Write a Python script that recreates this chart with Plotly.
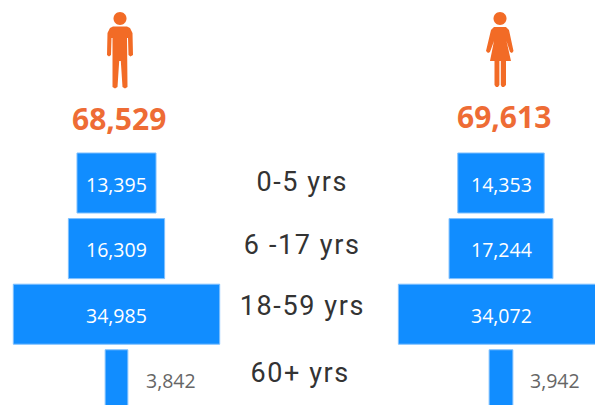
import plotly.graph_objects as go

age_groups = ["0-5 yrs", "6 -17 yrs", "18-59 yrs", "60+ yrs"]
male = [13395, 16309, 34985, 3842]
female = [14353, 17244, 34072, 3942]
male_total = 68529
female_total = 69613

W, H = 595, 405
BLUE = "#118DFF"
ORANGE = "#EE6C35"
NUM_FONT = "Open Sans"
LABEL_FONT = "Roboto"

# pixel layout of the two mirrored funnels
L_CENTER, L_SCALE = 116.5, 169.5
R_CENTER, R_SCALE = 501.0, 166.0
ROW_TOP, ROW_PITCH = 183.0, 65.6
LABEL_X = [301.5, 302, 302.5, 300]
LABEL_Y = [182, 245, 306, 373]


def px(x):
    return x / W


def py(y):
    return 1 - y / H


def path(points):
    return "M " + " L ".join(f"{px(a):.5f},{py(b):.5f}" for a, b in points) + " Z"


def head(cx, cy, r):
    k = 0.5523 * r
    p = lambda a, b: f"{px(a):.5f},{py(b):.5f}"
    return (f"M {p(cx - r, cy)} C {p(cx - r, cy - k)} {p(cx - k, cy - r)} {p(cx, cy - r)} "
            f"C {p(cx + k, cy - r)} {p(cx + r, cy - k)} {p(cx + r, cy)} "
            f"C {p(cx + r, cy + k)} {p(cx + k, cy + r)} {p(cx, cy + r)} "
            f"C {p(cx - k, cy + r)} {p(cx - r, cy + k)} {p(cx - r, cy)} Z")


man = [(110, 28), (113, 26.5), (127, 26.5), (130, 28), (132.5, 33), (133, 55), (130.5, 56.5), (128.5, 55),
       (128, 38), (127, 38), (127.5, 87), (125, 88.5), (122.5, 87), (120.8, 61), (119.2, 61), (117.5, 87),
       (115, 88.5), (112.5, 87), (112.5, 38), (111.5, 38), (111, 55), (109, 56.5), (107, 55), (107.5, 33)]
woman = [(494, 27), (506, 27), (509, 30), (513.5, 51), (512, 53), (510, 52), (506.5, 41), (511, 61),
         (506, 61), (506, 85), (504, 87), (502, 87), (500.8, 85), (500.8, 61), (499.4, 61), (499.4, 85),
         (498, 87), (496, 87), (494.5, 85), (494.5, 61), (490, 61), (494, 41), (490, 52), (488, 53),
         (486, 51), (491, 30)]

fig = go.Figure()
fig.add_trace(go.Bar(y=age_groups, x=male, base=[-v / 2 for v in male], orientation="h",
                     marker=dict(color=BLUE, line=dict(color="#7FC0FF", width=1)), width=0.915,
                     xaxis="x", yaxis="y", hoverinfo="skip"))
fig.add_trace(go.Bar(y=age_groups, x=female, base=[-v / 2 for v in female], orientation="h",
                     marker=dict(color=BLUE, line=dict(color="#7FC0FF", width=1)), width=0.915,
                     xaxis="x2", yaxis="y", hoverinfo="skip"))

annotations = []
for series, axis in ((male, "x"), (female, "x2")):
    for i, v in enumerate(series):
        small = v < 5000
        annotations.append(dict(
            x=0, y=age_groups[i], xref=axis, yref="y", text=f"{v:,}", showarrow=False,
            xanchor="center", yanchor="middle",
            xshift=54 if small else 0, yshift=-1,
            font=dict(family=NUM_FONT, size=19.5, color="#666666" if small else "#FFFFFF")))

for i, label in enumerate(age_groups):
    annotations.append(dict(x=px(LABEL_X[i]), xref="paper", y=py(LABEL_Y[i]), yref="paper", text=label,
                            showarrow=False, xanchor="center", yanchor="middle",
                            font=dict(family=LABEL_FONT, size=27, color="#333333")))

annotations.append(dict(x=px(119), y=py(118), xref="paper", yref="paper", text=f"<b>{male_total:,}</b>",
                        showarrow=False, xanchor="center", yanchor="middle",
                        font=dict(family=NUM_FONT, size=30, color=ORANGE)))
annotations.append(dict(x=px(503.5), y=py(116), xref="paper", yref="paper", text=f"<b>{female_total:,}</b>",
                        showarrow=False, xanchor="center", yanchor="middle",
                        font=dict(family=NUM_FONT, size=30, color=ORANGE)))

icon = dict(type="path", xref="paper", yref="paper", fillcolor="#F26B26", line=dict(width=0))
shapes = [dict(icon, path=head(120, 18.5, 6.5)), dict(icon, path=path(man)),
          dict(icon, path=head(500, 18.5, 6.5)), dict(icon, path=path(woman))]

fig.update_layout(
    width=W, height=H, margin=dict(l=0, r=0, t=0, b=0), showlegend=False,
    paper_bgcolor="white", plot_bgcolor="white", barmode="overlay",
    xaxis=dict(domain=[0, 1], range=[-L_CENTER * L_SCALE, (W - L_CENTER) * L_SCALE], visible=False),
    xaxis2=dict(domain=[0, 1], range=[-R_CENTER * R_SCALE, (W - R_CENTER) * R_SCALE], visible=False,
                overlaying="x"),
    yaxis=dict(domain=[0, 1], type="category", categoryorder="array", categoryarray=age_groups,
               range=[(H - ROW_TOP) / ROW_PITCH, -ROW_TOP / ROW_PITCH], visible=False),
    annotations=annotations, shapes=shapes,
)
fig.write_html("out.html", config=dict(displayModeBar=False),
               post_script="""document.body.style.margin='0';
document.querySelectorAll('.annotation-text').forEach(function(t){
  if (t.textContent.indexOf('yrs') >= 0) { t.style.letterSpacing = '1.6px'; }
});""")
